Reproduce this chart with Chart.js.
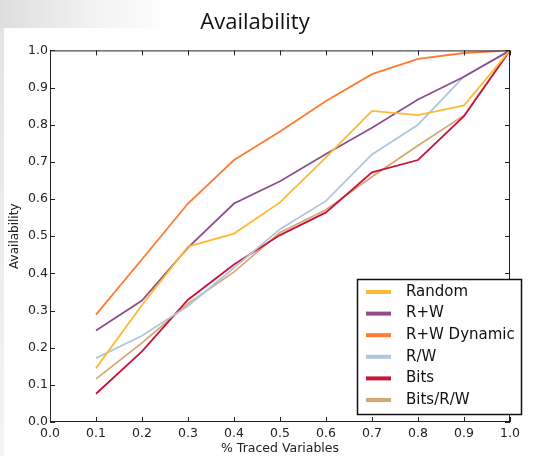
<!DOCTYPE html>
<html>
<head>
<meta charset="utf-8">
<script src="https://cdn.jsdelivr.net/npm/chart.js@4/dist/chart.umd.min.js"></script>
<style>
    html, body { margin: 0; padding: 0; background: #fff; }
    #wrap { position: relative; width: 540px; height: 456px; }
    #corner { position: absolute; left: 0; top: 0; width: 170px; height: 28px;
        background: linear-gradient(to right, #dedede 0%, #f2f2f2 55%, #fff 100%); }
    #strip { position: absolute; left: 0; top: 28px; width: 4px; height: 428px;
        background: linear-gradient(to bottom, #e4e4e4, #f4f4f4); }
    canvas { position: absolute; left: 0; top: 0; }
</style>
</head>
<body>
<div id="wrap">
    <div id="corner"></div>
    <div id="strip"></div>
    <canvas id="myChart" width="540" height="456"></canvas>
</div>
<script>
// values, x = share of traced variables
const tracedShare = [0.1, 0.2, 0.3, 0.4, 0.5, 0.6, 0.7, 0.8, 0.9, 1.0];
const randomValues = [0.145, 0.315, 0.472, 0.507, 0.591, 0.712, 0.837, 0.826, 0.852, 1.0];
const rwValues = [0.246, 0.327, 0.469, 0.588, 0.648, 0.721, 0.792, 0.868, 0.929, 1.0];
const rwDynamicValues = [0.289, 0.438, 0.588, 0.705, 0.782, 0.864, 0.936, 0.977, 0.993, 1.0];
const rSlashWValues = [0.172, 0.232, 0.312, 0.415, 0.519, 0.595, 0.72, 0.80, 0.93, 1.0];
const bitsValues = [0.076, 0.19, 0.329, 0.424, 0.503, 0.564, 0.672, 0.705, 0.823, 1.0];
const bitsRwValues = [0.116, 0.213, 0.318, 0.404, 0.51, 0.571, 0.66, 0.744, 0.825, 1.0];
const tickLabels = ['0.0', '0.1', '0.2', '0.3', '0.4', '0.5', '0.6', '0.7', '0.8', '0.9', '1.0'];

const seriesNames = ['Random', 'R+W', 'R+W Dynamic', 'R/W', 'Bits', 'Bits/R/W'];
const seriesColors = ['#FFBA33', '#8C4F8C', '#FF7A33', '#AFC6DD', '#C8143C', '#D6A872'];
const seriesValues = [randomValues, rwValues, rwDynamicValues, rSlashWValues, bitsValues, bitsRwValues];

const axisFont = { family: 'DejaVu Sans', size: 12.5 };

// box round the plot with inward ticks on all four sides
const frameTicks = {
    id: 'frameTicks',
    afterDraw(chart) {
        const { ctx, chartArea: a, scales } = chart;
        ctx.save();
        ctx.strokeStyle = '#222';
        ctx.lineWidth = 1;
        ctx.strokeRect(a.left + 0.5, a.top + 0.5, a.right - a.left - 1, a.bottom - a.top - 1);
        ctx.beginPath();
        tickLabels.forEach(t => {
            const v = parseFloat(t);
            const x = Math.round(scales.x.getPixelForValue(v)) + 0.5;
            ctx.moveTo(x, a.bottom); ctx.lineTo(x, a.bottom - 5);
            ctx.moveTo(x, a.top); ctx.lineTo(x, a.top + 5);
            const y = Math.round(scales.y.getPixelForValue(v)) + 0.5;
            ctx.moveTo(a.left, y); ctx.lineTo(a.left + 5, y);
            ctx.moveTo(a.right, y); ctx.lineTo(a.right - 5, y);
        });
        ctx.stroke();
        ctx.restore();
    }
};

// legend box in the lower right corner of the plot
const boxLegend = {
    id: 'boxLegend',
    afterDraw(chart) {
        const { ctx } = chart;
        const left = 357, top = 279, width = 164, height = 135;
        ctx.save();
        ctx.fillStyle = '#fff';
        ctx.fillRect(left, top, width, height);
        ctx.strokeStyle = '#111';
        ctx.lineWidth = 1.5;
        ctx.strokeRect(left + 0.5, top + 0.5, width, height);
        ctx.font = '15px "DejaVu Sans"';
        ctx.textBaseline = 'middle';
        chart.data.datasets.forEach((ds, i) => {
            const y = 292 + i * 21.6;
            ctx.strokeStyle = ds.borderColor;
            ctx.lineWidth = 4;
            ctx.beginPath();
            ctx.moveTo(366, y); ctx.lineTo(391, y);
            ctx.stroke();
            ctx.fillStyle = '#111';
            ctx.fillText(ds.label, 406, y);
        });
        ctx.restore();
    }
};

const ctx = document.getElementById('myChart');

const chart = new Chart(ctx, {
    type: 'line',
    data: {
        datasets: seriesNames.map((name, i) => ({
            label: name,
            data: tracedShare.map((x, j) => ({ x: x, y: seriesValues[i][j] })),
            borderColor: seriesColors[i],
            backgroundColor: seriesColors[i],
            borderWidth: 1.8,
            pointRadius: 0,
            tension: 0
        }))
    },
    options: {
        responsive: false,
        animation: false,
        layout: { padding: { top: 0, right: 30, left: 0, bottom: 0 } },
        plugins: {
            legend: { display: false },
            tooltip: { enabled: false },
            title: {
                display: true,
                text: 'Availability',
                color: '#111',
                font: { family: 'Open Sans', size: 22, weight: 'normal' },
                padding: { top: 10, bottom: 14 }
            }
        },
        scales: {
            x: {
                type: 'linear',
                min: 0,
                max: 1,
                afterFit: s => { s.height = 34; },
                afterBuildTicks: s => { s.ticks = tickLabels.map(t => ({ value: parseFloat(t) })); },
                grid: { display: false, drawTicks: false },
                border: { display: false },
                ticks: {
                    color: '#222',
                    font: axisFont,
                    padding: 4,
                    maxRotation: 0,
                    callback: v => v.toFixed(1)
                },
                title: {
                    display: true,
                    text: '% Traced Variables',
                    color: '#222',
                    font: { family: 'DejaVu Sans', size: 12.5 },
                    padding: { top: 0, bottom: 0 }
                }
            },
            y: {
                type: 'linear',
                min: 0,
                max: 1,
                afterFit: s => { s.width = 50; },
                afterBuildTicks: s => { s.ticks = tickLabels.map(t => ({ value: parseFloat(t) })); },
                grid: { display: false, drawTicks: false },
                border: { display: false },
                ticks: {
                    color: '#222',
                    font: axisFont,
                    padding: 2,
                    callback: v => v.toFixed(1)
                },
                title: {
                    display: true,
                    text: 'Availability',
                    color: '#222',
                    font: { family: 'DejaVu Sans', size: 12 },
                    padding: { top: 8, bottom: 0 }
                }
            }
        }
    },
    plugins: [frameTicks, boxLegend]
});
</script>
</body>
</html>
